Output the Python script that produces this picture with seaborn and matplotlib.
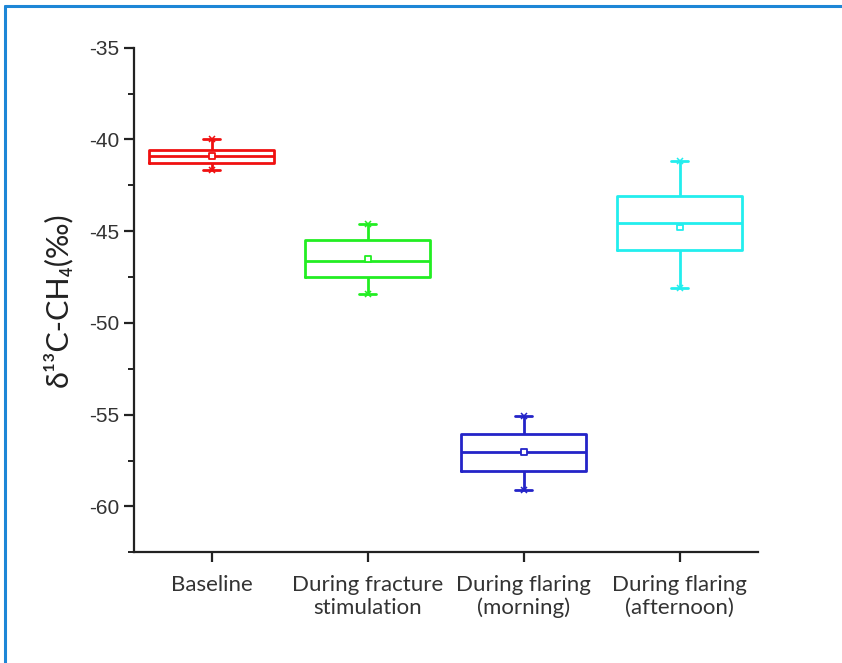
import numpy as np
import pandas as pd
import matplotlib
matplotlib.use("Agg")
import matplotlib.pyplot as plt
from matplotlib.lines import Line2D
import seaborn as sns

# Sampling periods
categories = ["Baseline", "During fracture\nstimulation",
              "During flaring\n(morning)", "During flaring\n(afternoon)"]

# Box summary per period (‰): whisker ends, quartiles, median
whisker_low = [-41.65, -48.4, -59.1, -48.1]
quartile_1 = [-41.3, -47.5, -58.05, -46.05]
median = [-40.9, -46.6, -57.05, -44.55]
quartile_3 = [-40.6, -45.5, -56.05, -43.1]
whisker_high = [-40.0, -44.6, -55.05, -41.15]
mean = [-40.9, -46.5, -57.05, -44.8]

colors = ["#F01010", "#22EE22", "#2424C8", "#22EEEE"]

yticks = [-35, -40, -45, -50, -55, -60]

# Five summary values per period: their quartiles are the box edges
rows = []
for cat, lo, q1, md, q3, hi in zip(categories, whisker_low, quartile_1,
                                   median, quartile_3, whisker_high):
    for v in (lo, q1, md, q3, hi):
        rows.append({"period": cat, "d13C": v})
df = pd.DataFrame(rows)

sns.set_style("ticks")
fig = plt.figure(figsize=(8.42, 6.63), dpi=100)
ax = fig.add_axes([0.159, 0.167, 0.741, 0.761])

sns.boxplot(data=df, x="period", y="d13C", hue="period", order=categories,
            hue_order=categories, palette=colors, fill=False, whis=(0, 100),
            width=0.8, linewidth=2.0, legend=False, ax=ax)

# shorten whisker caps
for cont in ax.containers:
    for cap in getattr(cont, "caps", []):
        x = cap.get_xdata()
        mid = 0.5 * (x[0] + x[1])
        cap.set_xdata([mid - 0.055, mid + 0.055])

pos = np.arange(len(categories))
# small cross markers at the whisker extremes
for i in range(len(categories)):
    ax.plot([pos[i], pos[i]], [whisker_low[i], whisker_high[i]], ls="none",
            marker="x", ms=4.5, mew=1.1, color=colors[i], zorder=4)
# mean markers
ax.scatter(pos, mean, marker="s", s=18, facecolors="white",
           edgecolors=colors, linewidths=1.3, zorder=5)

ax.set_xlim(-0.5, 3.5)
ax.set_ylim(-62.5, -35)
ax.set_yticks(yticks)
ax.set_yticks(np.arange(-62.5, -34.9, 2.5), minor=True)
ax.set_yticklabels([str(t) for t in yticks],
                   family=["Liberation Sans Narrow", "Liberation Sans"], fontsize=15)
ax.set_xticks(pos)
ax.set_xticklabels(categories, family=["Lato", "DejaVu Sans"], fontsize=16,
                   linespacing=1.2)
ax.set_xlabel("")
ax.set_ylabel("δ¹³C-CH₄(‰)", family=["Lato", "DejaVu Sans"], fontsize=22,
              color="#222222", labelpad=12)

for side in ("top", "right"):
    ax.spines[side].set_visible(False)
for side in ("left", "bottom"):
    ax.spines[side].set_linewidth(1.6)
    ax.spines[side].set_color("#222222")
ax.tick_params(axis="both", which="major", direction="out", length=7,
               width=1.6, color="#222222", labelcolor="#333333")
ax.tick_params(axis="y", which="minor", direction="out", length=4,
               width=1.4, color="#222222")
ax.tick_params(axis="x", pad=9)
ax.patch.set_alpha(0)

# frame lines on the top and left edges of the panel
fig.add_artist(Line2D([0.006, 1.0], [0.991, 0.991], transform=fig.transFigure,
                      color="#1E86D6", lw=2.2))
fig.add_artist(Line2D([0.006, 0.006], [0.0, 0.991], transform=fig.transFigure,
                      color="#1E86D6", lw=2.2))

fig.savefig("out.png", dpi=100)
